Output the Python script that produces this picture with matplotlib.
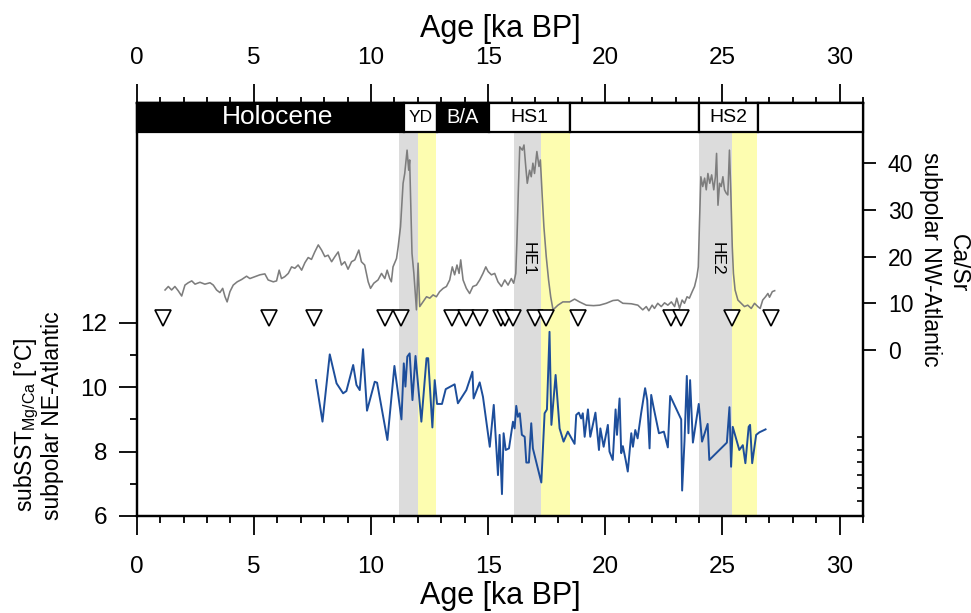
import matplotlib.pyplot as plt
import numpy as np
from matplotlib.patches import Rectangle
from matplotlib.ticker import MultipleLocator, FixedLocator
from matplotlib.transforms import blended_transform_factory

plt.rcParams['font.family'] = ['Liberation Sans', 'DejaVu Sans']
plt.rcParams['mathtext.fontset'] = 'custom'
plt.rcParams['mathtext.rm'] = 'Liberation Sans'
plt.rcParams['mathtext.it'] = 'Liberation Sans:italic'

# --- data -------------------------------------------------------------
# Ca/Sr, subpolar NW-Atlantic
casr_age = [1.21, 1.35, 1.49, 1.63, 1.77, 1.92, 2.06, 2.2, 2.35, 2.49, 2.7, 2.91,
            3.13, 3.27, 3.41, 3.55, 3.67, 3.77, 3.86, 3.98, 4.12, 4.29, 4.48, 4.69,
            4.83, 5.04, 5.26, 5.47, 5.61, 5.83, 5.97, 6.08, 6.18, 6.32, 6.47, 6.61,
            6.75, 6.89, 7.04, 7.18, 7.32, 7.46, 7.6, 7.75, 7.89, 8.03, 8.17, 8.32,
            8.46, 8.6, 8.74, 8.88, 9.02, 9.17, 9.31, 9.48, 9.59, 9.73, 9.88, 9.98,
            10.12, 10.3, 10.45, 10.59, 10.69, 10.8, 10.87, 10.94, 11.09, 11.16, 11.26,
            11.37, 11.44, 11.54, 11.61, 11.65, 11.7, 11.75, 11.83, 11.94, 12.01, 12.08,
            12.22, 12.37, 12.51, 12.65, 12.79, 12.93, 13.08, 13.22, 13.36, 13.47, 13.57,
            13.67, 13.76, 13.83, 13.93, 14.07, 14.21, 14.35, 14.5, 14.64, 14.78, 14.9,
            15.0, 15.14, 15.28, 15.42, 15.57, 15.71, 15.85, 15.99, 16.09, 16.18, 16.23,
            16.29, 16.35, 16.46, 16.53, 16.6, 16.67, 16.77, 16.84, 16.91, 16.98, 17.08,
            17.17, 17.23, 17.31, 17.38, 17.48, 17.58, 17.67, 17.77, 17.98, 18.19, 18.48,
            18.69, 18.9, 19.19, 19.5, 19.76, 20.04, 20.33, 20.54, 20.75, 21.11, 21.39,
            21.6, 21.75, 21.86, 22.0, 22.1, 22.24, 22.39, 22.53, 22.67, 22.82, 22.96,
            23.05, 23.17, 23.28, 23.38, 23.49, 23.59, 23.71, 23.81, 23.91, 23.97, 24.02,
            24.08, 24.16, 24.24, 24.31, 24.38, 24.46, 24.54, 24.63, 24.7, 24.75, 24.81,
            24.88, 24.95, 25.02, 25.09, 25.16, 25.23, 25.3, 25.36, 25.42, 25.47, 25.54,
            25.66, 25.8, 25.94, 26.08, 26.23, 26.37, 26.51, 26.61, 26.72, 26.84, 26.94,
            27.01, 27.13, 27.23]
casr = [12.85, 13.6, 12.85, 13.6, 12.7, 11.56, 13.9, 14.4, 14.8, 14.1, 14.5, 14.1,
        14.4, 13.9, 12.85, 12.3, 13.2, 11.4, 10.3, 12.5, 13.9, 14.6, 15.1, 15.8,
        15.3, 15.7, 16.1, 16.3, 15.0, 14.6, 14.8, 17.1, 15.3, 15.7, 16.4, 17.8,
        17.5, 18.2, 17.1, 18.7, 19.8, 19.4, 21.0, 22.5, 21.4, 20.0, 20.3, 18.9,
        20.0, 21.0, 18.2, 18.9, 17.3, 18.9, 19.3, 21.4, 18.9, 18.2, 14.6, 13.2,
        14.3, 15.0, 16.4, 15.3, 17.1, 15.3, 14.6, 17.8, 19.6, 22.1, 26.4,
        35.7, 37.8, 42.8, 38.5, 40.7, 30.7, 20.7, 16.4, 8.6, 18.6, 9.3,
        10.3, 11.4, 11.1, 11.8, 11.4, 12.5, 13.2, 13.6, 15.0, 17.8, 16.1,
        18.2, 16.4, 19.3, 15.0, 13.2, 12.1, 13.6, 13.9, 15.0, 16.4, 17.8,
        16.8, 16.1, 16.4, 14.6, 13.6, 15.0, 13.9, 15.3, 14.3, 16.4, 23.6,
        34.3, 43.5, 42.8, 43.9, 39.6, 35.7, 38.5, 37.1, 40.0, 37.8, 42.5,
        39.3, 40.7, 32.8, 26.4, 20.0, 15.0, 11.4, 8.6, 9.6, 10.3, 10.3,
        10.9, 10.3, 9.6, 9.5, 9.6, 10.0, 10.6, 10.7, 10.0, 9.9, 9.6,
        8.6, 9.3, 8.4, 9.6, 8.9, 10.0, 9.3, 10.1, 9.6, 10.3, 9.3,
        11.1, 8.9, 10.7, 10.0, 11.4, 11.1, 12.5, 13.6, 15.7, 17.8, 27.1,
        37.1, 35.0, 36.8, 34.3, 37.8, 35.7, 37.5, 34.3, 37.1, 42.1, 31.0,
        35.7, 35.0, 37.1, 34.3, 33.6, 33.2, 42.8, 33.6, 22.1, 16.4, 12.85,
        10.7, 10.0, 9.3, 9.6, 8.9, 10.0, 9.3, 8.9, 10.7, 11.4, 12.1,
        11.3, 12.5, 12.7]

# subSST Mg/Ca, subpolar NE-Atlantic
sst_age = [7.65, 7.93, 8.24, 8.53, 8.81, 8.95, 9.24, 9.38, 9.52, 9.66, 9.83, 10.16,
           10.26, 10.7, 11.0, 11.3, 11.4, 11.47, 11.55, 11.65, 11.77, 11.9, 12.15,
           12.37, 12.44, 12.62, 12.72, 12.82, 13.03, 13.19, 13.57, 13.71, 14.07,
           14.33, 14.38, 14.64, 14.78, 15.07, 15.24, 15.42, 15.49, 15.59, 15.66,
           15.75, 15.89, 16.06, 16.13, 16.2, 16.27, 16.35, 16.44, 16.56, 16.63,
           16.74, 16.84, 16.91, 17.27, 17.41, 17.51, 17.62, 17.7, 17.88, 18.05,
           18.22, 18.4, 18.69, 18.76, 18.87, 18.97, 19.04, 19.12, 19.26, 19.36,
           19.58, 19.73, 19.79, 19.93, 20.11, 20.18, 20.32, 20.44, 20.5, 20.61,
           20.68, 20.75, 20.87, 20.96, 21.11, 21.18, 21.28, 21.38, 21.53, 21.7,
           21.79, 21.89, 21.96, 22.06, 22.29, 22.5, 22.67, 22.77, 23.24, 23.28,
           23.38, 23.48, 23.55, 23.62, 23.74, 23.99, 24.13, 24.37, 24.44, 25.19,
           25.3, 25.37, 25.44, 25.72, 25.87, 25.98, 26.12, 26.18, 26.27, 26.44,
           26.58, 26.84]
sst = [10.22, 8.93, 11.02, 10.12, 9.81, 9.88, 10.69, 10.07, 9.91, 11.18, 9.27, 10.17,
       10.14, 8.36, 10.66, 9.0, 10.74, 10.02, 10.95, 11.05, 9.6, 10.97, 8.93,
       10.9, 10.9, 8.75, 10.22, 9.48, 9.48, 9.94, 10.09, 9.5, 9.91,
       10.48, 9.65, 10.15, 9.7, 8.15, 9.45, 7.27, 8.52, 6.68, 8.57,
       8.05, 8.1, 8.93, 8.72, 9.42, 9.08, 9.19, 8.52, 8.46, 7.66,
       7.66, 8.88, 8.1, 7.04, 9.19, 9.31, 11.72, 8.83, 10.38, 8.72,
       8.31, 8.62, 8.24, 9.14, 9.21, 9.03, 9.19, 8.46, 9.31, 8.46,
       9.21, 8.05, 8.72, 8.15, 8.83, 8.0, 7.74, 9.31, 8.52, 9.65,
       7.95, 8.17, 7.74, 7.38, 8.57, 8.15, 8.67, 8.41, 9.19, 9.97,
       9.6, 8.1, 9.76, 9.38, 8.57, 8.62, 8.13, 9.73, 9.0, 6.79,
       8.31, 10.35, 8.57, 10.22, 8.28, 9.48, 8.31, 8.86, 7.74, 8.28,
       9.38, 7.53, 8.77, 8.05, 8.2, 7.64, 8.77, 8.83, 7.64, 8.52,
       8.6, 8.69]

# age control points (triangles)
tri_age = [1.14, 5.64, 7.57, 10.59, 11.26, 13.45, 14.05, 14.64, 15.57, 15.71,
           16.06, 16.98, 17.48, 18.83, 22.82, 23.24, 25.42, 27.08]

# climate periods (top bar)
periods = ['Holocene', 'YD', 'B/A', 'HS1', '', 'HS2', '']
p_start = [0, 11.4, 12.8, 15.05, 18.5, 24.0, 26.5]
p_end = [11.4, 12.8, 15.05, 18.5, 24.0, 26.5, 31]
p_dark = [True, False, True, False, False, False, False]

# Heinrich events (grey) and following intervals (yellow)
he_names = ['', 'HE1', 'HE2']
he_start = [11.2, 16.1, 24.02]
he_end = [12.0, 17.24, 25.4]
post_end = [12.76, 18.5, 26.47]

# --- figure ---------------------------------------------------------------
W, H = 971, 613
fig = plt.figure(figsize=(W / 100, H / 100), dpi=100)
x0, x1, ytop, ybot = 136.7, 863, 103, 516
ax = fig.add_axes([x0 / W, 1 - ybot / H, (x1 - x0) / W, (ybot - ytop) / H])
ax.set_xlim(0, 31)
ax.set_ylim(6, 6 + (ybot - ytop) / 32.2)
bar_y = (ybot - 132) / (ybot - ytop)

for s, e, p in zip(he_start, he_end, post_end):
    ax.axvspan(s, e, ymin=0, ymax=bar_y, color='#dcdcdc', lw=0, zorder=0)
    ax.axvspan(e, p, ymin=0, ymax=bar_y, color='#fdfdb0', lw=0, zorder=0)

ax.plot(sst_age, sst, color='#1d4e9b', lw=1.4, zorder=3)

for sp in ax.spines.values():
    sp.set_linewidth(1.6)
ax.set_yticks([6, 8, 10, 12])
ax.yaxis.set_minor_locator(FixedLocator([7, 9, 11]))
ax.xaxis.set_major_locator(MultipleLocator(5))
ax.xaxis.set_minor_locator(MultipleLocator(1))
ax.tick_params(axis='y', which='major', length=13, width=1.3, pad=8, labelsize=17.5)
ax.tick_params(axis='y', which='minor', length=5, width=1.3)
ax.tick_params(axis='x', which='major', length=13.7, width=1.3, pad=15, labelsize=17.5)
ax.tick_params(axis='x', which='minor', length=5, width=1.3)
ax.set_xlabel('Age [ka BP]', fontsize=22, labelpad=2)

top = ax.secondary_xaxis('top')
top.xaxis.set_major_locator(MultipleLocator(5))
top.xaxis.set_minor_locator(MultipleLocator(1))
top.tick_params(which='major', length=13.5, width=1.3, pad=11, labelsize=17.5)
top.tick_params(which='minor', length=4.5, width=1.3)
top.spines['top'].set_linewidth(1.6)
top.set_xlabel('Age [ka BP]', fontsize=22, labelpad=7)

ax2 = ax.twinx()
ax2.set_ylim((350 - ybot) / 4.67, (350 - ytop) / 4.67)
ax2.plot(casr_age, casr, color='#7d7d7d', lw=1.15, zorder=3)
ax2.plot(tri_age, [6.85] * len(tri_age), ls='none', marker='v', ms=12,
         mfc='white', mec='black', mew=1.2, zorder=4)
for name, s, e in zip(he_names, he_start, he_end):
    if name:
        ax2.text((s + e) / 2 + 0.05, 19.5, name, rotation=270, ha='center',
                 va='center', fontsize=12.5)

ax2.set_yticks([0, 10, 20, 30, 40])
ax2.yaxis.set_minor_locator(FixedLocator(np.linspace(-18.6, -32.3, 6)))
ax2.tick_params(axis='y', which='major', direction='out', length=9, width=1.3,
                pad=9, labelsize=16.5)
ax2.tick_params(axis='y', which='minor', direction='in', length=4, width=1.2)
for sp in ax2.spines.values():
    sp.set_linewidth(1.6)

# top bar with the climate periods
tr = blended_transform_factory(ax2.transData, ax2.transAxes)
for name, s, e, dark in zip(periods, p_start, p_end, p_dark):
    ax2.add_patch(Rectangle((s, bar_y), e - s, 1 - bar_y, transform=tr,
                            facecolor='black' if dark else 'white',
                            edgecolor='black', lw=1.6, clip_on=False, zorder=5))
    if name:
        fs = {'Holocene': 19, 'YD': 12.5, 'B/A': 14.5}.get(name, 14)
        xc = 6.0 if name == 'Holocene' else (s + e) / 2
        ax2.text(xc, (1 + bar_y) / 2, name, transform=tr, ha='center',
                 va='center', fontsize=fs, color='white' if dark else 'black',
                 zorder=6)

# axis titles
fig.text(27 / W, 1 - 425 / H, r'subSST$_{\mathregular{Mg/Ca}}$ [°C]', rotation=90,
         ha='center', va='center', fontsize=16.5)
fig.text(53 / W, 1 - 416 / H, 'subpolar NE-Atlantic', rotation=90,
         ha='center', va='center', fontsize=16.5)
fig.text(930 / W, 1 - 259 / H, 'subpolar NW-Atlantic', rotation=270,
         ha='center', va='center', fontsize=16.5)
fig.text(958 / W, 1 - 263 / H, 'Ca/Sr', rotation=270,
         ha='center', va='center', fontsize=16.5)

fig.savefig('out.png', dpi=100)
